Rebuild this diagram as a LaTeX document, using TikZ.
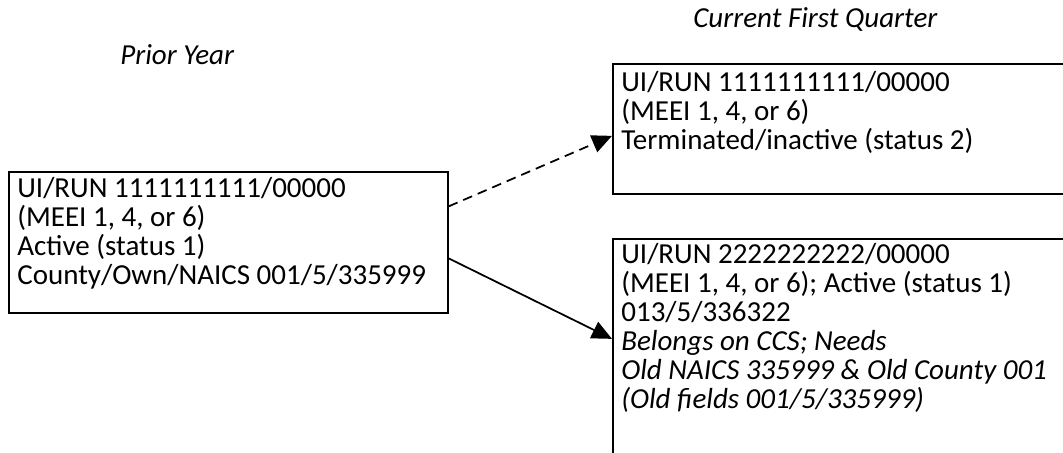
\documentclass[tikz,border=0pt]{standalone}
\usepackage{fontspec}
\setmainfont{Carlito}
\usepackage{tikz}
\usetikzlibrary{positioning, arrows.meta, calc}

\tikzset{
	box/.style={draw, line width=1pt, inner sep=0pt, anchor=north west},
	boxtext/.style={anchor=north west, align=left, inner sep=0pt,
		font=\fontsize{16.5}{16.5}\selectfont},
	head/.style={anchor=base west, inner sep=0pt,
		font=\fontsize{16.5}{16.5}\selectfont\itshape},
	link/.style={line width=1pt, -{Triangle[length=0.4cm, width=0.36cm]}},
}

\begin{document}
\begin{tikzpicture}[x=0.02cm, y=-0.02cm]

			\useasboundingbox (0,0) rectangle (1063,453);

			% column headings
			\node [head] (prioryear) at (120,64) {Prior Year};
			\node [head] (curquarter) at (693,28) {Current First Quarter};

			% boxes
			\node [box, minimum width=8.78cm, minimum height=2.82cm] (prior) at (8,171) {};
			\node [box, minimum width=9.6cm, minimum height=2.6cm] (qone) at (612,63) {};
			\node [box, minimum width=9.6cm, minimum height=4.8cm] (qtwo) at (612,238) {};

			% box contents
			\node [boxtext] (priortext) at (17,177) {UI/RUN 1111111111/00000\\
				(MEEI 1, 4, or 6)\\
				Active (status 1)\\
				County/Own/NAICS 001/5/335999};
			\node [boxtext] (qonetext) at (621,71) {UI/RUN 1111111111/00000\\
				(MEEI 1, 4, or 6)\\
				Terminated/inactive (status 2)};
			\node [boxtext] (qtwotext) at (621,243) {UI/RUN 2222222222/00000\\
				(MEEI 1, 4, or 6); Active (status 1)\\
				013/5/336322\\
				\textit{Belongs on CCS; Needs}\\
				\textit{Old NAICS 335999 \& Old County 001}\\
				\textit{(Old fields 001/5/335999)}};

			% arrows
			\draw [link, dash pattern=on 5.5pt off 3.5pt] ([yshift=0.72cm]prior.east) -- ([yshift=-0.14cm]qone.west);
			\draw [link] ([yshift=-0.32cm]prior.east) -- ([yshift=0.4cm]qtwo.west);
\end{tikzpicture}
\end{document}
